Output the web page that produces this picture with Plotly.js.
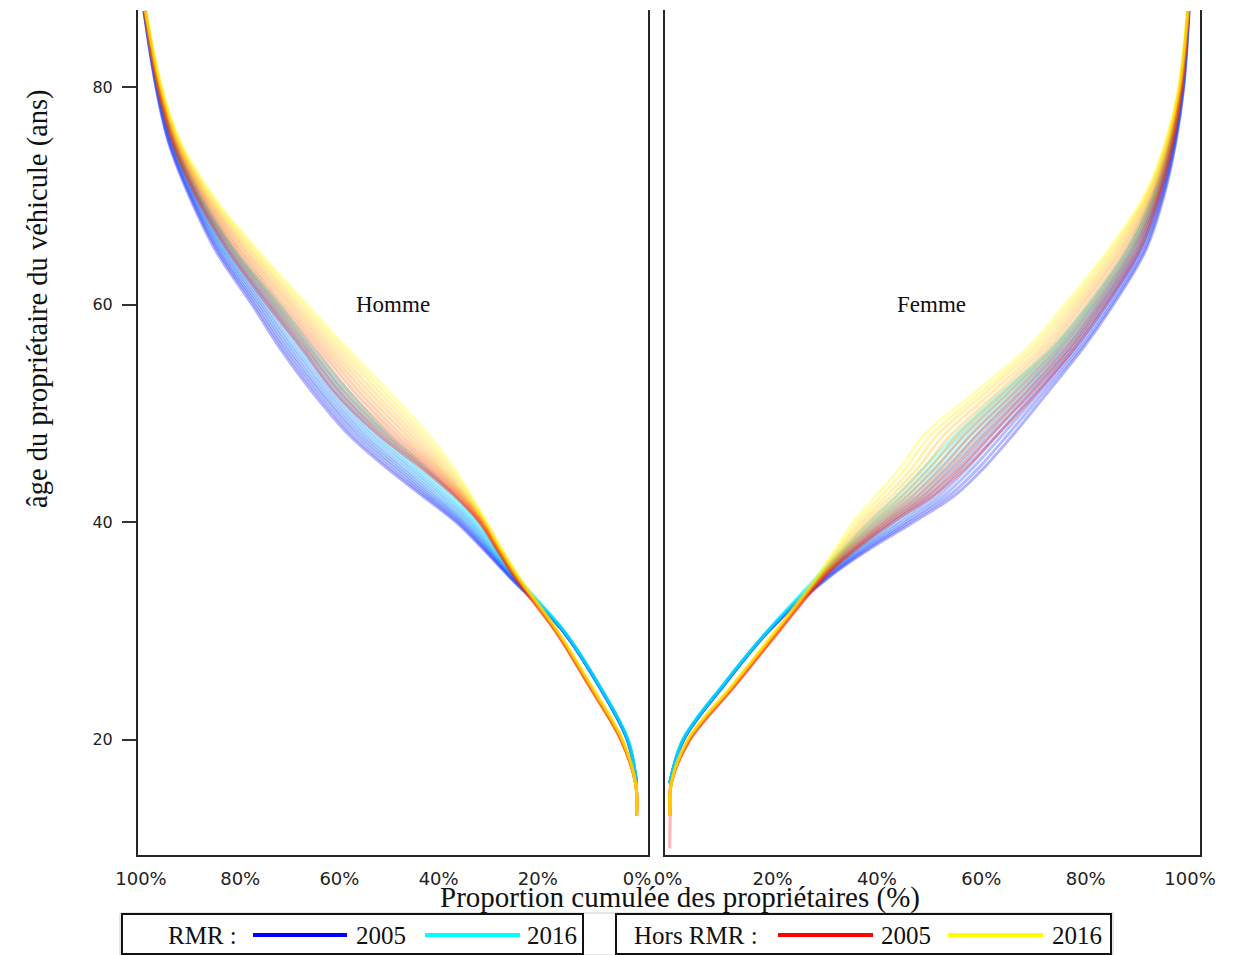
<!DOCTYPE html>
<html><head><meta charset="utf-8">
<script src="https://cdn.plot.ly/plotly-3.0.1.min.js"></script>
<style>html,body{margin:0;padding:0;background:#fff}#chart{width:1239px;height:955px}</style>
</head><body><div id="chart"></div>
<script>
// Age of owner (y) — rows of the tables below
const ages = [10, 13, 16, 20, 25, 30, 35, 37.5, 40, 42.5, 45, 48, 52, 56, 60, 65, 70, 75, 80, 87];
// Columns of the tables below
const years = [2005, 2006, 2007, 2008, 2009, 2010, 2011, 2012, 2013, 2014, 2015, 2016];
const xTickVals = [0, 20, 40, 60, 80, 100];
const xTickText = ['0%', '20%', '40%', '60%', '80%', '100%'];
const yTickVals = [20, 40, 60, 80];

// Cumulative share of owners (%) — Homme, RMR (one row per age, one column per year)
const hommeRMR = [
 [null,null,null,null,null,null,null,null,null,null,null,null],
 [null,null,null,null,null,null,null,null,null,null,null,null],
 [0.1,0.1,0.1,0.1,0.1,0.1,0.1,0.1,0.1,0.1,0.1,0.1],
 [2.0,2.0,2.0,1.9,1.9,1.9,1.9,1.9,1.9,1.8,1.8,1.8],
 [7.8,7.8,7.8,7.7,7.7,7.7,7.7,7.7,7.7,7.6,7.6,7.6],
 [15.0,15.0,14.9,14.9,14.9,14.9,14.8,14.8,14.8,14.8,14.7,14.7],
 [25.8,25.7,25.5,25.4,25.2,25.1,24.9,24.8,24.6,24.5,24.3,24.2],
 [31.0,30.7,30.5,30.2,30.0,29.7,29.5,29.2,28.9,28.7,28.5,28.2],
 [36.5,36.1,35.7,35.3,34.9,34.5,34.0,33.6,33.2,32.8,32.4,32.0],
 [43.5,42.9,42.3,41.7,41.1,40.5,39.8,39.2,38.6,38.0,37.4,36.8],
 [50.5,49.8,49.0,48.3,47.6,46.9,46.1,45.4,44.7,44.0,43.2,42.5],
 [58.0,57.3,56.5,55.8,55.1,54.4,53.6,52.9,52.2,51.5,50.7,50.0],
 [65.5,64.8,64.1,63.5,62.8,62.1,61.4,60.7,60.0,59.4,58.7,58.0],
 [72.0,71.4,70.8,70.2,69.6,69.0,68.3,67.7,67.1,66.5,65.9,65.3],
 [77.6,77.1,76.6,76.1,75.6,75.1,74.5,74.0,73.5,73.0,72.5,72.0],
 [85.0,84.6,84.3,83.9,83.5,83.2,82.8,82.5,82.1,81.7,81.4,81.0],
 [90.3,90.1,89.9,89.7,89.5,89.3,89.0,88.8,88.6,88.4,88.2,88.0],
 [94.5,94.4,94.3,94.1,94.0,93.9,93.8,93.7,93.6,93.4,93.3,93.2],
 [97.0,96.9,96.9,96.8,96.8,96.7,96.7,96.6,96.6,96.5,96.5,96.4],
 [99.4,99.4,99.4,99.3,99.3,99.3,99.3,99.3,99.3,99.2,99.2,99.2]
];

// Homme, Hors RMR
const hommeHors = [
 [null,null,null,null,null,null,null,null,null,null,null,null],
 [0.1,0.1,0.1,0.1,0.1,0.1,0.1,0.1,0.1,0.1,0.1,0.1],
 [0.3,0.3,0.3,0.3,0.3,0.3,0.3,0.3,0.3,0.3,0.3,0.3],
 [3.3,3.3,3.2,3.2,3.2,3.1,3.1,3.1,3.0,3.0,2.9,2.9],
 [9.8,9.7,9.7,9.6,9.6,9.5,9.5,9.4,9.4,9.3,9.3,9.2],
 [16.5,16.5,16.4,16.4,16.3,16.3,16.2,16.2,16.1,16.1,16.0,16.0],
 [24.8,24.7,24.6,24.5,24.4,24.3,24.3,24.2,24.1,24.0,23.9,23.8],
 [28.3,28.2,28.1,28.0,27.9,27.8,27.7,27.6,27.5,27.4,27.3,27.2],
 [31.8,31.7,31.5,31.4,31.3,31.1,31.0,30.8,30.7,30.6,30.4,30.3],
 [37.0,36.7,36.4,36.0,35.7,35.4,35.1,34.8,34.5,34.1,33.8,33.5],
 [43.5,42.9,42.3,41.7,41.1,40.5,40.0,39.4,38.8,38.2,37.6,37.0],
 [52.0,51.1,50.2,49.3,48.4,47.5,46.5,45.6,44.7,43.8,42.9,42.0],
 [61.0,60.0,59.0,58.0,57.0,56.0,55.0,54.0,53.0,52.0,51.0,50.0],
 [67.5,66.7,65.9,65.0,64.2,63.4,62.6,61.8,61.0,60.1,59.3,58.5],
 [74.5,73.8,73.0,72.3,71.6,70.9,70.1,69.4,68.7,68.0,67.2,66.5],
 [82.5,82.0,81.4,80.9,80.3,79.8,79.2,78.7,78.1,77.6,77.0,76.5],
 [89.0,88.7,88.4,88.0,87.7,87.4,87.1,86.8,86.5,86.1,85.8,85.5],
 [93.8,93.6,93.5,93.3,93.2,93.0,92.8,92.7,92.5,92.4,92.2,92.0],
 [96.7,96.6,96.5,96.5,96.4,96.3,96.2,96.1,96.0,96.0,95.9,95.8],
 [99.3,99.3,99.2,99.2,99.2,99.2,99.1,99.1,99.1,99.1,99.0,99.0]
];

// Femme, RMR
const femmeRMR = [
 [null,null,null,null,null,null,null,null,null,null,null,null],
 [null,null,null,null,null,null,null,null,null,null,null,null],
 [0.3,0.3,0.3,0.3,0.3,0.3,0.3,0.3,0.3,0.3,0.3,0.3],
 [3.0,3.0,3.0,2.9,2.9,2.9,2.9,2.9,2.9,2.8,2.8,2.8],
 [10.7,10.7,10.6,10.6,10.6,10.6,10.5,10.5,10.5,10.5,10.4,10.4],
 [19.3,19.3,19.2,19.2,19.2,19.2,19.1,19.1,19.1,19.1,19.0,19.0],
 [31.0,30.8,30.5,30.3,30.1,29.9,29.6,29.4,29.2,29.0,28.7,28.5],
 [38.5,38.0,37.6,37.1,36.7,36.2,35.8,35.3,34.9,34.4,34.0,33.5],
 [47.0,46.2,45.5,44.7,43.9,43.1,42.4,41.6,40.8,40.0,39.3,38.5],
 [55.0,54.0,53.0,52.0,51.0,50.0,49.0,48.0,47.0,46.0,45.0,44.0],
 [60.5,59.5,58.4,57.4,56.3,55.3,54.2,53.2,52.1,51.1,50.0,49.0],
 [66.0,65.0,64.0,63.0,62.0,61.0,60.0,59.0,58.0,57.0,56.0,55.0],
 [72.8,72.0,71.2,70.4,69.6,68.8,68.0,67.2,66.4,65.6,64.8,64.0],
 [79.5,79.0,78.4,77.9,77.3,76.8,76.2,75.7,75.1,74.6,74.0,73.5],
 [85.3,84.9,84.4,84.0,83.6,83.1,82.7,82.3,81.8,81.4,80.9,80.5],
 [91.5,91.2,90.8,90.5,90.2,89.8,89.5,89.1,88.8,88.5,88.1,87.8],
 [95.0,94.8,94.6,94.4,94.2,94.0,93.8,93.6,93.4,93.2,93.0,92.8],
 [97.3,97.2,97.1,97.0,96.9,96.8,96.7,96.6,96.5,96.4,96.3,96.2],
 [98.8,98.7,98.7,98.6,98.6,98.5,98.5,98.4,98.4,98.3,98.3,98.2],
 [99.8,99.8,99.8,99.7,99.7,99.7,99.7,99.7,99.7,99.6,99.6,99.6]
];

// Femme, Hors RMR
const femmeHors = [
 [0.3,null,null,null,null,null,null,null,null,null,null,null],
 [0.4,0.4,0.4,0.4,0.4,0.4,0.4,0.4,0.4,0.4,0.4,0.4],
 [0.6,0.6,0.6,0.6,0.6,0.6,0.6,0.6,0.6,0.6,0.6,0.6],
 [4.2,4.2,4.1,4.1,4.0,4.0,3.9,3.9,3.8,3.8,3.7,3.7],
 [12.9,12.8,12.8,12.7,12.6,12.6,12.5,12.4,12.4,12.3,12.3,12.2],
 [21.3,21.2,21.2,21.1,21.0,20.9,20.9,20.8,20.7,20.6,20.6,20.5],
 [30.0,29.9,29.7,29.6,29.5,29.3,29.2,29.0,28.9,28.8,28.6,28.5],
 [36.0,35.6,35.3,34.9,34.5,34.2,33.8,33.5,33.1,32.7,32.4,32.0],
 [43.0,42.3,41.6,41.0,40.3,39.6,38.9,38.2,37.5,36.9,36.2,35.5],
 [51.0,50.0,49.0,48.0,47.0,46.0,45.0,44.0,43.0,42.0,41.0,40.0],
 [57.0,55.9,54.7,53.6,52.5,51.3,50.2,49.0,47.9,46.8,45.6,44.5],
 [63.0,61.7,60.5,59.2,57.9,56.6,55.4,54.1,52.8,51.5,50.3,49.0],
 [70.8,69.7,68.7,67.6,66.5,65.4,64.4,63.3,62.2,61.1,60.1,59.0],
 [77.8,77.0,76.2,75.3,74.5,73.7,72.9,72.1,71.3,70.4,69.6,68.8],
 [83.8,83.1,82.4,81.7,81.0,80.3,79.5,78.8,78.1,77.4,76.7,76.0],
 [90.3,89.8,89.2,88.7,88.1,87.6,87.0,86.5,85.9,85.4,84.8,84.3],
 [94.2,93.9,93.7,93.4,93.1,92.8,92.6,92.3,92.0,91.7,91.5,91.2],
 [96.8,96.7,96.5,96.4,96.3,96.1,96.0,95.8,95.7,95.6,95.4,95.3],
 [98.5,98.4,98.4,98.3,98.2,98.2,98.1,98.0,98.0,97.9,97.9,97.8],
 [99.7,99.7,99.7,99.6,99.6,99.6,99.6,99.6,99.6,99.5,99.5,99.5]
];

function column(table, k) { return table.map(function (row) { return row[k]; }); }
function lineColor(group, k, alpha) {
  var g = Math.round(255 * k / (years.length - 1));
  return group === 'RMR' ? 'rgba(0,' + g + ',255,' + alpha + ')' : 'rgba(255,' + g + ',0,' + alpha + ')';
}

var traces = [];
[[hommeRMR, 'RMR', 'x', 'y'], [hommeHors, 'Hors', 'x', 'y'],
 [femmeRMR, 'RMR', 'x2', 'y2'], [femmeHors, 'Hors', 'x2', 'y2']].forEach(function (spec) {
  years.forEach(function (yr, k) {
    traces.push({
      type: 'scatter', mode: 'lines',
      x: column(spec[0], k), y: ages,
      xaxis: spec[2], yaxis: spec[3],
      name: spec[1] + ' ' + yr,
      line: { color: lineColor(spec[1], k, 0.3), width: 3, shape: 'spline', smoothing: 1.0 },
      hoverinfo: 'skip', showlegend: false
    });
  });
});

var W = 1239, H = 955, T = 10, B = 100;
function px(x) { return x / W; }
function py(y) { return (H - B - y) / (H - T - B); }

var serif = 'Liberation Serif, Times New Roman, serif';
var sans = 'DejaVu Sans, Verdana, sans-serif';
var lineCol = '#262626';

function note(x, y, text, size, extra) {
  var a = { xref: 'paper', yref: 'paper', x: px(x), y: py(y), text: text, showarrow: false,
            xanchor: 'center', yanchor: 'middle', font: { family: serif, size: size, color: '#111' } };
  if (extra) { for (var key in extra) { a[key] = extra[key]; } }
  return a;
}

var layout = {
  width: W, height: H,
  margin: { l: 0, r: 0, t: T, b: B },
  paper_bgcolor: '#ffffff', plot_bgcolor: '#ffffff',
  showlegend: false,
  xaxis: {
    domain: [px(138), px(648)], range: [100.6, -2.2], anchor: 'y',
    tickvals: xTickVals, ticktext: xTickText, ticks: '',
    tickfont: { family: sans, size: 18, color: '#222' }, ticklabelstandoff: 6,
    showline: true, linecolor: lineCol, linewidth: 2, showgrid: false, zeroline: false
  },
  yaxis: {
    domain: [0, 1], range: [9.4, 87.1], anchor: 'x',
    tickvals: yTickVals, ticks: 'outside', ticklen: 14, tickwidth: 2, tickcolor: '#333',
    tickfont: { family: sans, size: 16, color: '#222' }, ticklabelstandoff: 6,
    showline: true, mirror: true, linecolor: lineCol, linewidth: 2, showgrid: false, zeroline: false
  },
  xaxis2: {
    domain: [px(665), px(1200)], range: [-0.6, 101.9], anchor: 'y2',
    tickvals: xTickVals, ticktext: xTickText, ticks: '',
    tickfont: { family: sans, size: 18, color: '#222' }, ticklabelstandoff: 6,
    showline: true, linecolor: lineCol, linewidth: 2, showgrid: false, zeroline: false
  },
  yaxis2: {
    domain: [0, 1], range: [9.4, 87.1], anchor: 'x2',
    showticklabels: false, ticks: '',
    showline: true, mirror: true, linecolor: lineCol, linewidth: 2, showgrid: false, zeroline: false
  },
  annotations: [
    { xref: 'x', yref: 'y', x: 49.2, y: 60, text: 'Homme', showarrow: false, xanchor: 'center', yanchor: 'middle', font: { family: serif, size: 23, color: '#111' } },
    { xref: 'x2', yref: 'y2', x: 50.5, y: 60, text: 'Femme', showarrow: false, xanchor: 'center', yanchor: 'middle', font: { family: serif, size: 23, color: '#111' } },
    note(38, 299, 'âge du propriétaire du véhicule (ans)', 28.5, { textangle: -90 }),
    note(680, 898, 'Proportion cumulée des propriétaires (%)', 29),
    note(202, 935, 'RMR :', 25),
    note(381, 935, '2005', 25),
    note(551.5, 935, '2016', 25),
    note(695.5, 935, 'Hors RMR :', 25),
    note(905.5, 935, '2005', 25),
    note(1076.5, 935, '2016', 25)
  ],
  shapes: [
    { type: 'rect', xref: 'paper', yref: 'paper', x0: px(120), x1: px(1113), y0: py(913), y1: py(955), line: { color: '#cccccc', width: 1 } },
    { type: 'rect', xref: 'paper', yref: 'paper', x0: px(122), x1: px(583), y0: py(914), y1: py(954), fillcolor: '#ffffff', line: { color: '#111', width: 2 } },
    { type: 'rect', xref: 'paper', yref: 'paper', x0: px(616), x1: px(1111), y0: py(914), y1: py(954), fillcolor: '#ffffff', line: { color: '#111', width: 2 } },
    { type: 'line', xref: 'paper', yref: 'paper', x0: px(253), x1: px(347), y0: py(935), y1: py(935), line: { color: 'rgb(0,0,255)', width: 4 } },
    { type: 'line', xref: 'paper', yref: 'paper', x0: px(425), x1: px(520), y0: py(935), y1: py(935), line: { color: 'rgb(0,255,255)', width: 4 } },
    { type: 'line', xref: 'paper', yref: 'paper', x0: px(778), x1: px(873), y0: py(935), y1: py(935), line: { color: 'rgb(255,0,0)', width: 4 } },
    { type: 'line', xref: 'paper', yref: 'paper', x0: px(948), x1: px(1043), y0: py(935), y1: py(935), line: { color: 'rgb(255,255,0)', width: 4 } }
  ]
};

Plotly.newPlot('chart', traces, layout, { staticPlot: true, displayModeBar: false });
</script>
</body></html>
